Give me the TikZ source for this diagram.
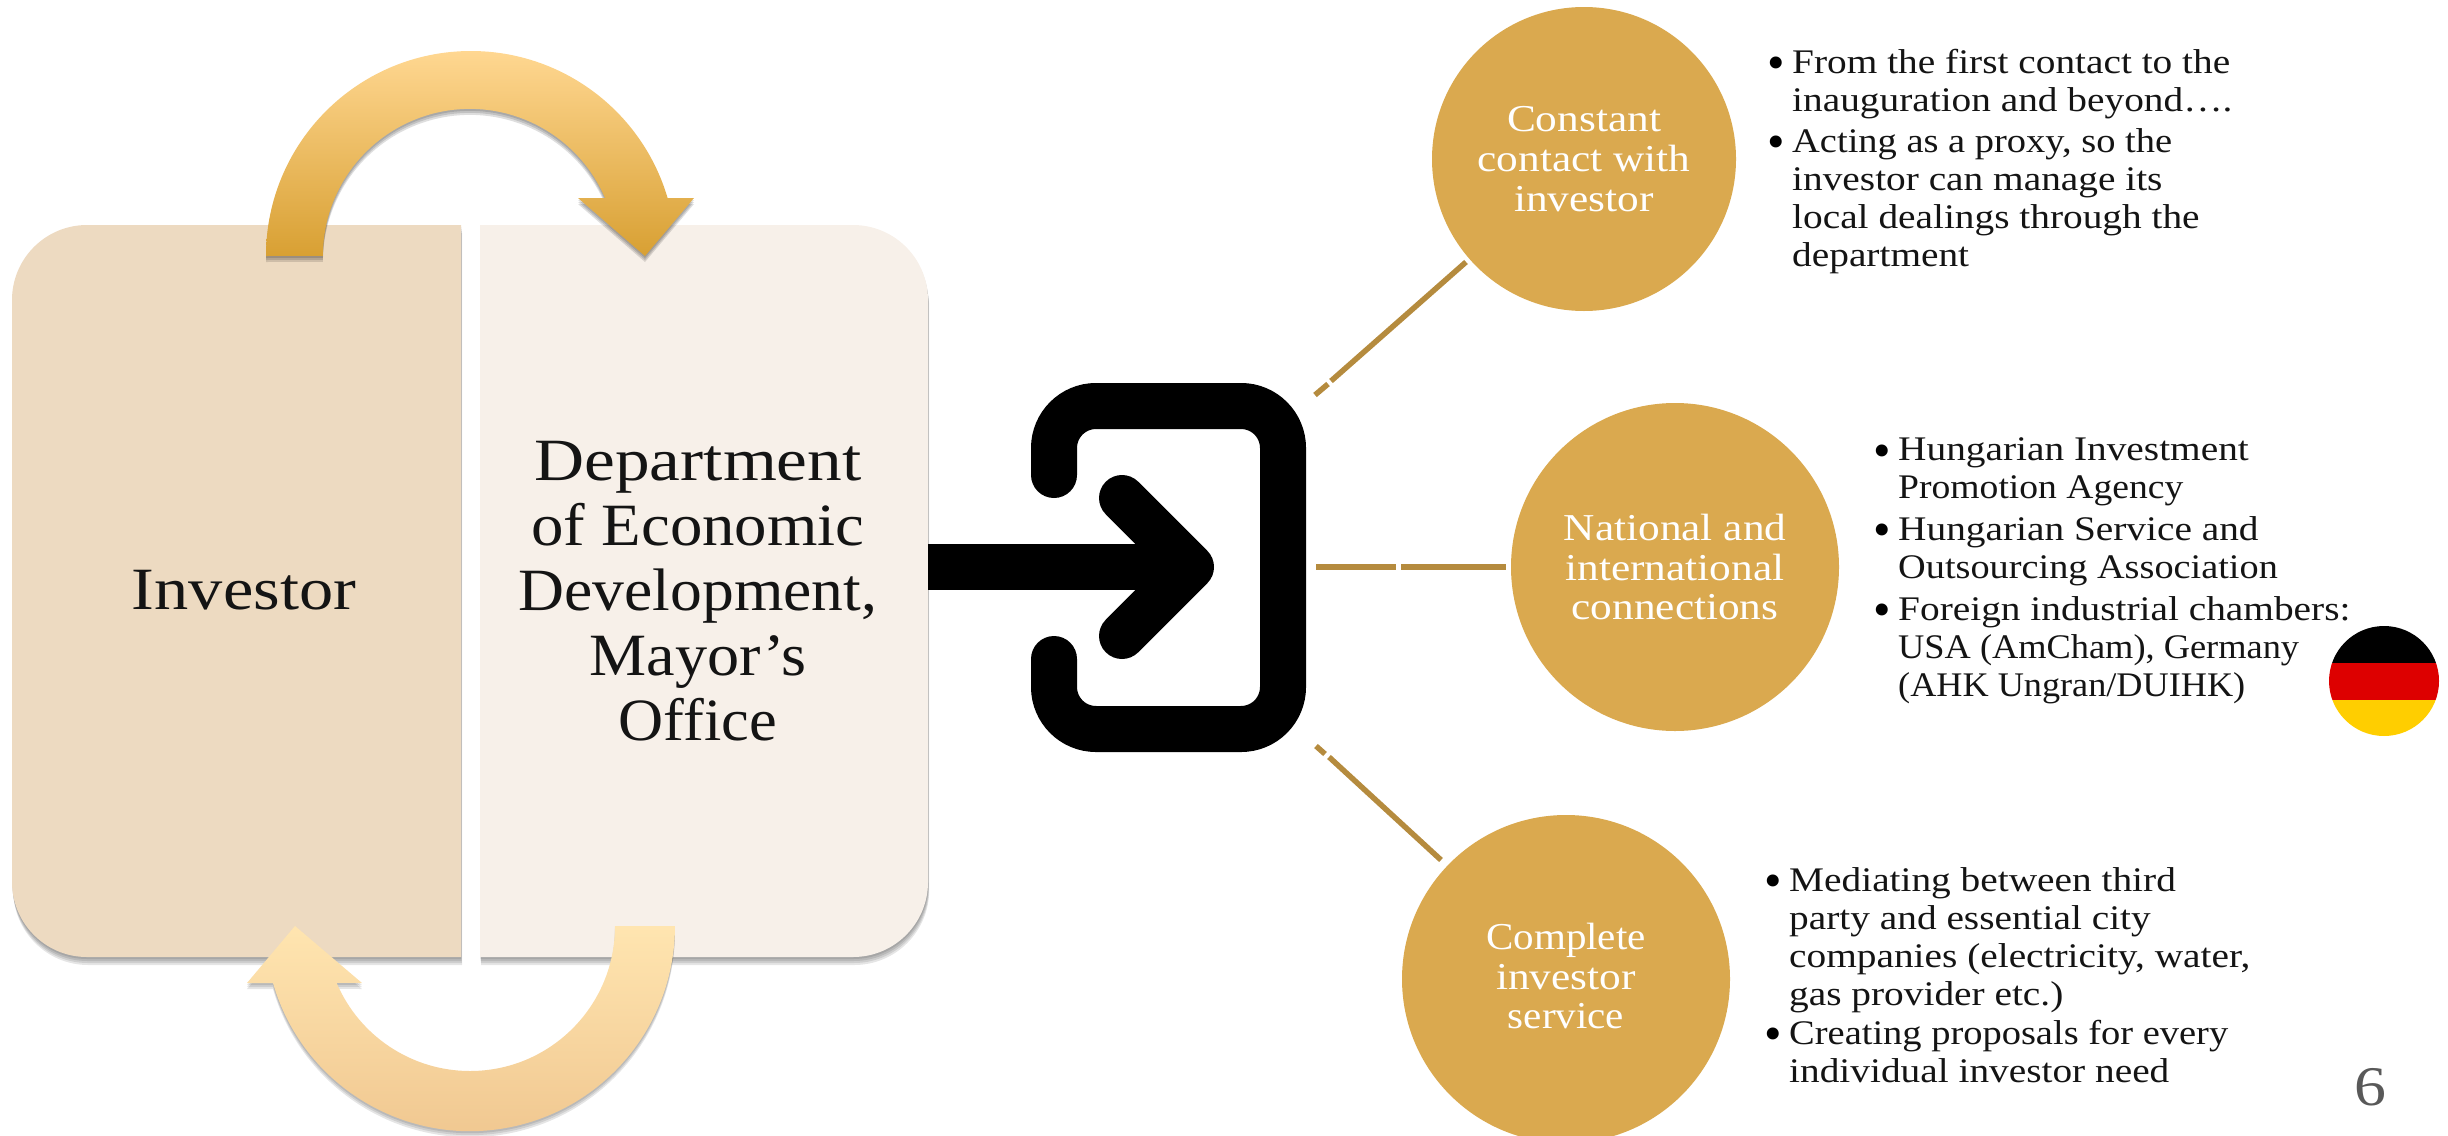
\documentclass[tikz,border=0pt]{standalone}
\usepackage{fontspec}
\setmainfont[FakeStretch=1.14]{Liberation Serif}
\newcommand{\fsx}[2]{{\addfontfeature{FakeStretch=#1}#2}}
\definecolor{boxA}{HTML}{EDDAC1}
\definecolor{boxB}{HTML}{F7F0E9}
\definecolor{gold}{HTML}{DAA94F}
\definecolor{linecol}{HTML}{B58B3E}
\definecolor{flagred}{HTML}{DD0000}
\definecolor{flagyel}{HTML}{FFCE00}
\definecolor{atop}{HTML}{FFD791}
\definecolor{abot}{HTML}{D8A033}
\definecolor{btop}{HTML}{FFE5B0}
\definecolor{bbot}{HTML}{EFC58E}
\tikzset{
  x=1pt,y=-1pt,
  bigtxt/.style={font=\fontsize{60}{65}\selectfont,align=center,text=black!92},
  circtxt/.style={font=\fontsize{38}{39.7}\selectfont,align=center,text=white},
  bultxt/.style={font=\fontsize{34.5}{38}\selectfont,align=left,anchor=north west,inner sep=0pt,text=black!92},
  bulmark/.style={font=\fontsize{50}{50}\selectfont\addfontfeature{FakeStretch=1},anchor=base,inner sep=0pt,text=black},
  goldcirc/.style={circle,fill=gold,inner sep=0pt},
  dashline/.style={draw=linecol,line width=5.5pt},
  softshadow/.style={fill=black,opacity=.10},
}
\def\leftbox{(461,225) -- (87,225) arc[start angle=270,end angle=180,radius=75] -- (12,882) arc[start angle=180,end angle=90,radius=75] -- (461,957) -- cycle}
\def\rightbox{(480,225) -- (853,225) arc[start angle=270,end angle=360,radius=75] -- (928,882) arc[start angle=0,end angle=90,radius=75] -- (480,957) -- cycle}
\def\toparrow{(266,256) arc[start angle=180,end angle=343.6,radius=205] -- (694,198) -- (645,256) -- (578,198) -- (605,198) arc[start angle=336.8,end angle=180,radius=147] -- cycle}
\def\botarrow{(615,926) arc[start angle=0,end angle=156.9,radius=145] -- (362,983) -- (295,926) -- (247,983) -- (273,983) arc[start angle=163.9,end angle=0,radius=205] -- cycle}
\begin{document}
\begin{tikzpicture}
\useasboundingbox (0,0) rectangle (2448,1135);
\clip (0,0) rectangle (2448,1135);
% boxes
\foreach \d in {2,4,6,8}{
  \path[softshadow,yshift=-\d pt,xshift=.15*\d pt] \leftbox;
  \path[softshadow,yshift=-\d pt,xshift=.15*\d pt] \rightbox;
}
\path[fill=boxA] \leftbox;
\path[fill=boxB] \rightbox;
\node[bigtxt] (inv) at (244,590) {Investor};
\node[bigtxt] (dep) at (698,591) {\fsx{1.155}{Department}\\\fsx{1.08}{of Economic}\\\fsx{1.06}{Development,}\\\fsx{1.07}{Mayor's}\\\fsx{1.04}{Office}};
% loop arrows
\foreach \d in {2,4,6}{
  \path[softshadow,opacity=.13,yshift=-\d pt] \toparrow;
  \path[softshadow,opacity=.10,yshift=-\d pt] \botarrow;
}
\shade[top color=atop,bottom color=abot] \toparrow;
\shade[top color=btop,bottom color=bbot] \botarrow;
% icon
\coordinate (shaftstart) at (928,567);
\coordinate (shafttip) at (1191,567);
\draw[line width=46pt] (shaftstart) -- (shafttip);
\draw[line width=46pt,line cap=round,line join=round] (1122,498) -- (shafttip) -- (1122,636);
\draw[line width=46pt,line cap=round,rounded corners=42pt] (1054,475) -- (1054,406) -- (1283,406) -- (1283,729) -- (1054,729) -- (1054,659);
% circles
\node[goldcirc,minimum size=304pt] (c1) at (1584,159) {};
\node[goldcirc,minimum size=328pt] (c2) at (1675,567) {};
\node[goldcirc,minimum size=328pt] (c3) at (1566,979) {};
\node[circtxt] (t1) at (c1) {Constant\\contact with\\investor};
\node[circtxt] (t2) at (c2) {National and\\international\\connections};
\node[circtxt,yshift=3pt] (t3) at (c3) {\fsx{1.08}{Complete}\\investor\\\fsx{1.08}{service}};
% dashed connectors
\coordinate (a1) at (1315,395); \coordinate (a2) at (1328,384);
\coordinate (a3) at (1331,381); \coordinate (a4) at (1466,262);
\coordinate (b1) at (1316,567); \coordinate (b2) at (1396,567);
\coordinate (b3) at (1401,567); \coordinate (b4) at (1506,567);
\coordinate (d1) at (1316,746); \coordinate (d2) at (1325,754);
\coordinate (d3) at (1329,757); \coordinate (d4) at (1441,860);
\draw[dashline] (a1) -- (a2);
\draw[dashline] (a3) -- (a4);
\draw[dashline] (b1) -- (b2);
\draw[dashline] (b3) -- (b4);
\draw[dashline] (d1) -- (d2);
\draw[dashline] (d3) -- (d4);
% bullets
\node[bulmark] (m1) at (1776,79) {•};
\node[bultxt] (l1) at (1792,49) {From the first contact to the\\inauguration and beyond….};
\node[bulmark] (m2) at (1776,158) {•};
\node[bultxt] (l2) at (1792,128) {\fsx{1.115}{Acting as a proxy, so the}\\investor can manage its\\local dealings through the\\department};
\node[bulmark] (m3) at (1882,467) {•};
\node[bultxt] (l3) at (1898,437) {Hungarian Investment\\\fsx{1.09}{Promotion Agency}};
\node[bulmark] (m4) at (1882,546) {•};
\node[bultxt] (l4) at (1898,516) {Hungarian Service and\\\fsx{1.11}{Outsourcing Association}};
\node[bulmark] (m5) at (1882,626) {•};
\node[bultxt] (l5) at (1898,596) {Foreign industrial chambers:\\\fsx{1.054}{USA (AmCham), Germany}\\\fsx{1.05}{(AHK Ungran/DUIHK)}};
\node[bulmark] (m6) at (1773,897) {•};
\node[bultxt] (l6) at (1789,867) {Mediating between third\\party and essential city\\companies (electricity, water,\\gas provider etc.)};
\node[bulmark] (m7) at (1773,1050) {•};
\node[bultxt] (l7) at (1789,1020) {\fsx{1.115}{Creating proposals for every}\\individual investor need};
% flag
\begin{scope}
\clip (2384,681) circle[radius=55];
\fill[black] (2320,620) rectangle (2448,663);
\fill[flagred] (2320,663) rectangle (2448,700);
\fill[flagyel] (2320,700) rectangle (2448,745);
\end{scope}
\node[font=\fontsize{56}{60}\selectfont,text=black!65] (pg) at (2370,1087) {6};
\end{tikzpicture}
\end{document}
